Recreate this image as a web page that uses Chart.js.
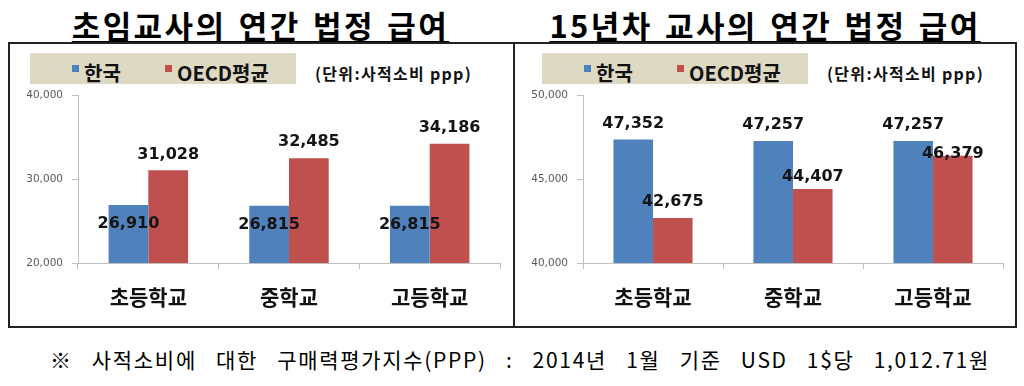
<!DOCTYPE html>
<html>
<head>
<meta charset="utf-8">
<script src="https://cdn.jsdelivr.net/npm/chart.js@4/dist/chart.umd.min.js"></script>
<style>
  body { margin: 0; width: 1024px; height: 386px; background: #fff; position: relative; overflow: hidden; font-family: "Noto Sans CJK KR", sans-serif; }
  .title { position: absolute; top: 2px; font-size: 31px; font-weight: bold; color: #000; text-align: center; letter-spacing: 2.4px; word-spacing: 3px;
           text-decoration: underline; text-decoration-thickness: 2px; text-underline-offset: 3px; white-space: nowrap; }
  .panel { position: absolute; top: 42px; height: 286px; border: 2px solid #222; box-sizing: border-box; }
  .legendBox { position: absolute; background: #ddd9c3; height: 31px; }
  .item { position: absolute; font-weight: bold; font-size: 20px; color: #111; white-space: nowrap; line-height: 20px; }
  .sw { position: absolute; width: 7px; height: 7px; }
  .unit { position: absolute; font-weight: bold; font-size: 16px; letter-spacing: 1.3px; color: #111; white-space: nowrap; line-height: 16px; }
  canvas { position: absolute; }
  #note { position: absolute; left: 50px; top: 346px; font-size: 21px; letter-spacing: 1.7px; color: #000; white-space: nowrap; line-height: 26px; }
</style>
</head>
<body>
<div class="title" id="t1" style="left:8px; width:505px;"></div>
<div class="title" id="t2" style="left:513px; width:504px;"></div>
<div class="panel" style="left:8px; width:507px;"></div>
<div class="panel" style="left:513px; width:504px;"></div>
<div id="leg1"></div>
<div id="leg2"></div>
<canvas id="c1" width="503" height="282" style="left:10px; top:44px;"></canvas>
<canvas id="c2" width="501" height="282" style="left:515px; top:44px;"></canvas>
<div id="note"></div>
<script>
const titles = ["초임교사의 연간 법정 급여", "15년차 교사의 연간 법정 급여"];
const categories = ["초등학교", "중학교", "고등학교"];
const seriesNames = ["한국", "OECD평균"];
const seriesColors = ["#4f81bd", "#c0504d"];
const unitText = "(단위:사적소비 ppp)";

// 초임교사
const koreaStart = [26910, 26815, 26815];
const oecdStart = [31028, 32485, 34186];
const yTicksStart = [20000, 30000, 40000];

// 15년차 교사
const korea15 = [47352, 47257, 47257];
const oecd15 = [42675, 44407, 46379];
const yTicks15 = [40000, 45000, 50000];

const noteText = "※ 사적소비에 대한 구매력평가지수(PPP) : 2014년 1월 기준 USD 1$당 1,012.71원";

document.getElementById("t1").textContent = titles[0];
document.getElementById("t2").textContent = titles[1];

// 범례 (HTML)
function makeLegend(el, x0) {
  const box = document.createElement("div");
  box.className = "legendBox";
  box.style.left = x0 + "px"; box.style.top = "53px"; box.style.width = "266px";
  el.appendChild(box);
  const swX = [x0 + 42, x0 + 135];
  const txX = [x0 + 54, x0 + 147];
  seriesNames.forEach((name, i) => {
    const sw = document.createElement("div");
    sw.className = "sw";
    sw.style.left = swX[i] + "px"; sw.style.top = "65px"; sw.style.background = seriesColors[i];
    el.appendChild(sw);
    const t = document.createElement("div");
    t.className = "item";
    t.style.left = txX[i] + "px"; t.style.top = "63px";
    t.textContent = name;
    el.appendChild(t);
  });
  const u = document.createElement("div");
  u.className = "unit";
  u.style.left = (x0 + 285) + "px"; u.style.top = "65px";
  u.textContent = unitText;
  el.appendChild(u);
}
makeLegend(document.getElementById("leg1"), 30);
makeLegend(document.getElementById("leg2"), 542);

const barLabels = {
  id: "barLabels",
  afterDatasetsDraw(chart, args, opts) {
    const ctx = chart.ctx;
    ctx.save();
    ctx.font = 'bold 16px "DejaVu Sans"';
    ctx.fillStyle = "#141414";
    ctx.textAlign = "center";
    ctx.textBaseline = "middle";
    chart.data.datasets.forEach((ds, i) => {
      chart.getDatasetMeta(i).data.forEach((bar, j) => {
        ctx.fillText(ds.data[j].toLocaleString("en-US"), bar.x, bar.y + opts.dy[i][j]);
      });
    });
    ctx.restore();
  }
};

function makeChart(id, a, b, ticks, dy) {
  const axisColor = "#c0c0c0";
  return new Chart(document.getElementById(id), {
    type: "bar",
    data: {
      labels: categories,
      datasets: [
        { label: seriesNames[0], data: a, backgroundColor: seriesColors[0] },
        { label: seriesNames[1], data: b, backgroundColor: seriesColors[1] }
      ]
    },
    options: {
      responsive: false,
      animation: false,
      devicePixelRatio: 1,
      layout: { padding: { top: 51, right: 13, left: 0, bottom: 0 } },
      datasets: { bar: { categoryPercentage: 0.565, barPercentage: 1 } },
      scales: {
        x: {
          grid: { drawOnChartArea: false, offset: true, tickLength: 6, color: axisColor },
          border: { color: axisColor },
          ticks: { font: { family: "Noto Sans CJK KR", size: 21, weight: "bold" }, color: "#111", padding: 15 },
          afterFit: s => { s.height = 63; }
        },
        y: {
          min: ticks[0], max: ticks[ticks.length - 1],
          afterBuildTicks: s => { s.ticks = ticks.map(v => ({ value: v })); },
          grid: { drawOnChartArea: false, tickLength: 6, color: axisColor },
          border: { color: axisColor },
          ticks: {
            font: { family: "DejaVu Sans", size: 10.5 }, color: "#595959", padding: 9,
            callback: v => v.toLocaleString("en-US")
          },
          afterFit: s => { s.width = 68; }
        }
      },
      plugins: {
        legend: { display: false },
        tooltip: { enabled: false },
        barLabels: { dy: dy }
      }
    },
    plugins: [barLabels]
  });
}

makeChart("c1", koreaStart, oecdStart, yTicksStart, [[19, 19, 19], [-16, -16, -16]]);
makeChart("c2", korea15, oecd15, yTicks15, [[-16, -16, -16], [-16, -12, -2]]);

// 각주: 원본 폭(약 940px)에 맞춰 단어 간격 조정
const note = document.getElementById("note");
note.textContent = noteText;
const spaces = noteText.split(" ").length - 1;
note.style.wordSpacing = ((940 - note.offsetWidth) / spaces) + "px";
</script>
</body>
</html>
